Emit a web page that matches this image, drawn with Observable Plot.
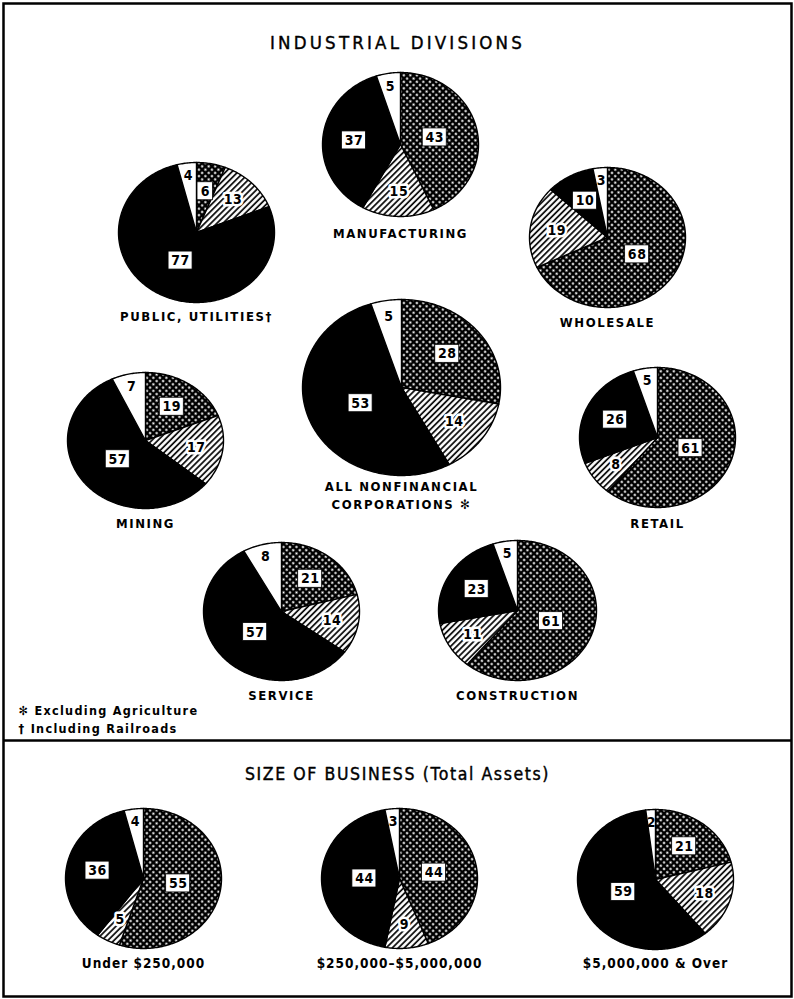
<!DOCTYPE html>
<html><head><meta charset="utf-8">
<script src="https://cdn.jsdelivr.net/npm/d3@7"></script>
<script src="https://cdn.jsdelivr.net/npm/@observablehq/plot@0.6"></script>
<style>
body{margin:0;background:#fff;}
#chart svg{display:block;}
</style>
</head><body>
<svg width="0" height="0" style="position:absolute">
<defs>
<pattern id="dots" width="4.6" height="4.6" patternUnits="userSpaceOnUse" patternTransform="rotate(45)">
 <rect width="4.6" height="4.6" fill="#000"/>
 <circle cx="2.3" cy="2.3" r="1.15" fill="#fff"/>
</pattern>
<pattern id="hatch" width="4.3" height="4.3" patternUnits="userSpaceOnUse" patternTransform="rotate(45)">
 <rect width="4.3" height="4.3" fill="#fff"/>
 <line x1="1" y1="0" x2="1" y2="4.3" stroke="#000" stroke-width="1.7"/>
</pattern>
</defs></svg>
<div id="chart"></div>
<script>
// ---- data ----
const pies = ["Manufacturing","Public Utilities","Wholesale","All Nonfinancial Corporations","Mining","Retail","Service","Construction","Under $250,000","$250,000-$5,000,000","$5,000,000 & Over"];
const pieLabels = [["MANUFACTURING"],["PUBLIC, UTILITIES†"],["WHOLESALE"],["ALL NONFINANCIAL","CORPORATIONS ✻"],["MINING"],["RETAIL"],["SERVICE"],["CONSTRUCTION"],["Under $250,000"],["$250,000–$5,000,000"],["$5,000,000 & Over"]];
const seriesNames = ["Crosshatched","Hatched","Solid","Open"];
const crosshatched = [43, 6, 68, 28, 19, 61, 21, 61, 55, 44, 21];
const hatched      = [15, 13, 19, 14, 17, 8, 14, 11, 5, 9, 18];
const solid        = [37, 77, 10, 53, 57, 26, 57, 23, 36, 44, 59];
const open         = [5, 4, 3, 5, 7, 5, 8, 5, 4, 3, 2];
const titles = ["INDUSTRIAL DIVISIONS", "SIZE OF BUSINESS (Total Assets)"];
const footnotes = ["✻ Excluding Agriculture", "† Including Railroads"];

// ---- layout ----
const W = 794, H = 999;
const layout = [
  {cx:400, cy:144, rx:78, ry:72, ldy:17},
  {cx:196, cy:232, rx:78, ry:70, ldy:14},
  {cx:607, cy:237, rx:78, ry:70, ldy:15},
  {cx:401, cy:387, rx:99, ry:88, ldy:11},
  {cx:145, cy:440, rx:78, ry:68, ldy:15},
  {cx:657, cy:437, rx:78, ry:70, ldy:16},
  {cx:281, cy:611, rx:78, ry:69, ldy:15},
  {cx:517, cy:610, rx:79, ry:70, ldy:15},
  {cx:143, cy:878, rx:78, ry:70, ldy:15},
  {cx:399, cy:878, rx:78, ry:70, ldy:15},
  {cx:655, cy:879, rx:78, ry:70, ldy:14}
];
const fills = ["url(#dots)","url(#hatch)","#000","#fff"];
const series = [crosshatched, hatched, solid, open];

const pts = [], slices = [], names = [];
pies.forEach((name, i) => {
  const L = layout[i];
  const vals = series.map(s => s[i]);
  const total = d3.sum(vals);
  let acc = 0;
  vals.forEach((v, j) => {
    const a0 = acc / total * 2 * Math.PI, a1 = (acc + v) / total * 2 * Math.PI;
    acc += v;
    const id = i + "-" + j;
    pts.push({id, s: j, x: L.cx, y: L.cy});
    const n = Math.max(2, Math.ceil((a1 - a0) / (Math.PI / 180)));
    for (let k = 0; k <= n; k++) {
      const a = a0 + (a1 - a0) * k / n;
      pts.push({id, s: j, x: L.cx + L.rx * Math.sin(a), y: L.cy - L.ry * Math.cos(a)});
    }
    const am = (a0 + a1) / 2;
    const f = j === 3 ? 0.82 : j === 1 ? 0.66 : (v >= 40 ? 0.45 : 0.6);
    slices.push({pie: i, s: j, v, x: L.cx + f * L.rx * Math.sin(am), y: L.cy - f * L.ry * Math.cos(am)});
  });
  pieLabels[i].forEach((t, k) => names.push({text: t, x: L.cx, y: L.cy + L.ry + L.ldy + k * 18, bottom: i >= 8}));
});

const boxW = d => String(d.v).length * 8.5 + 7;
const font = "'DejaVu Sans Condensed', 'DejaVu Sans', sans-serif";

const chart = Plot.plot({
  width: W, height: H,
  margin: 0,
  x: {domain: [0, W], axis: null},
  y: {domain: [H, 0], axis: null},
  style: {fontFamily: font, background: "#fff"},
  marks: [
    Plot.frame({inset: 3, stroke: "#000", strokeWidth: 2.5}),
    Plot.ruleY([740], {stroke: "#000", strokeWidth: 2.5, inset: 3}),
    ...[0,1,2,3].map(j => Plot.line(pts.filter(d => d.s === j), {
      x: "x", y: "y", z: "id", curve: "linear-closed",
      fill: fills[j], stroke: "#000", strokeWidth: 1.4, strokeLinejoin: "round"
    })),
    Plot.rect(slices.filter(d => d.s === 0 || d.s === 2), {
      x1: d => d.x - boxW(d) / 2, x2: d => d.x + boxW(d) / 2,
      y1: d => d.y - 9, y2: d => d.y + 9,
      fill: "#fff", stroke: "#000", strokeWidth: 0.8
    }),
    Plot.text(slices, {
      x: "x", y: "y", text: d => String(d.v),
      fontSize: 14, fontWeight: "bold", fill: "#000",
      stroke: d => d.s === 1 ? "#fff" : "none", strokeWidth: 5
    }),
    Plot.text(names.filter(d => !d.bottom), {x: "x", y: "y", text: "text", fontSize: 13, fontWeight: "bold", fill: "#000"}),
    Plot.text(names.filter(d => d.bottom), {x: "x", y: "y", text: "text", fontSize: 13.5, fontWeight: "bold", fill: "#000"}),
    Plot.text([titles[0]], {frameAnchor: "top", dy: 43, text: d => d, fontSize: 18.5, fill: "#000", stroke: "#000", strokeWidth: 0.4, lineAnchor: "middle"}),
    Plot.text([titles[1]], {frameAnchor: "top", dy: 774, text: d => d, fontSize: 17.5, fill: "#000", stroke: "#000", strokeWidth: 0.4, lineAnchor: "middle"}),
    Plot.text(footnotes, {frameAnchor: "top-left", dx: 18, dy: 0, y: (d, i) => 706 + i * 18, text: d => d, textAnchor: "start", fontSize: 12.5, fontWeight: "bold", fill: "#000"})
  ]
});
document.getElementById("chart").appendChild(chart);

// letter-spacing tweaks by text mark order
const groups = chart.querySelectorAll('g[aria-label="text"]');
const spacing = [0.5, 1.6, 1.0, 3.2, 1.6, 1.3];
groups.forEach((g, k) => { if (spacing[k] != null) g.style.letterSpacing = spacing[k] + "px"; });
</script>
</body></html>
